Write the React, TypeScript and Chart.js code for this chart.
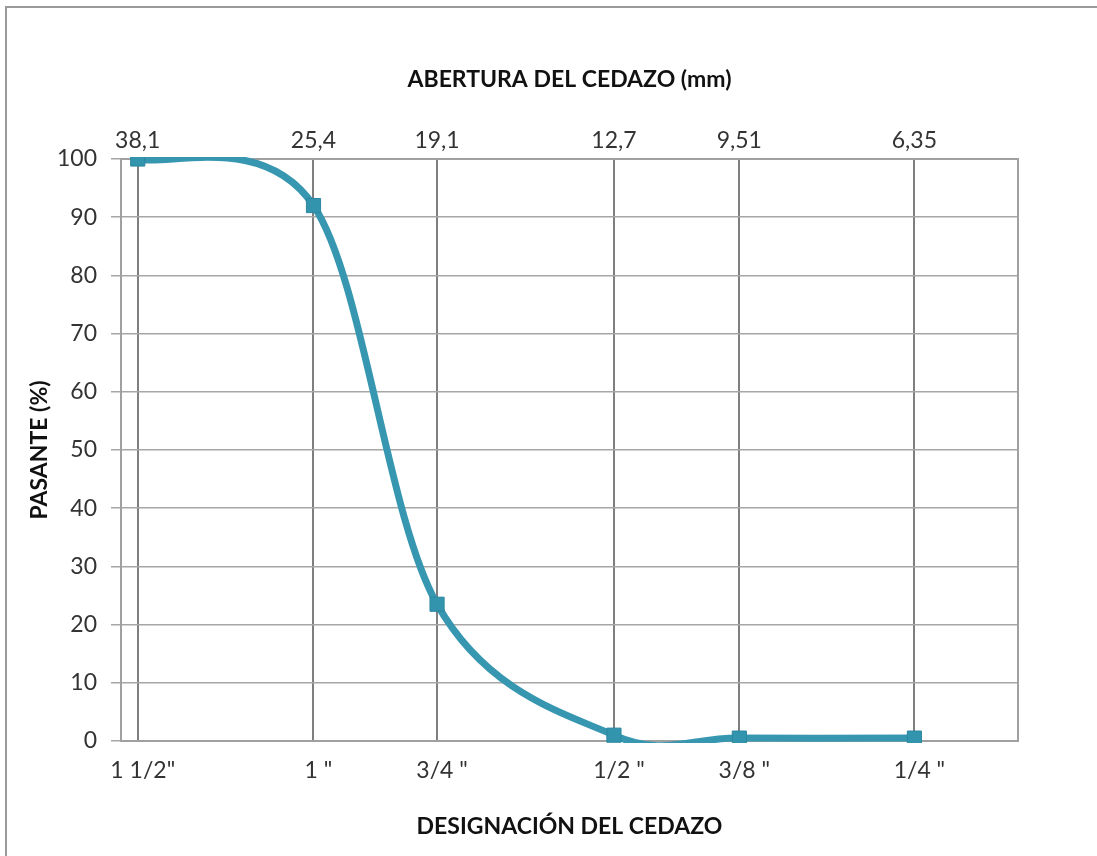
import { useEffect, useRef } from "react";
import { Chart, registerables } from "chart.js";

Chart.register(...registerables);

// Sieve openings (mm) and the matching sieve designations
const aberturaMm = [38.1, 25.4, 19.1, 12.7, 9.51, 6.35];
const aberturaLabels = ["38,1", "25,4", "19,1", "12,7", "9,51", "6,35"];
const designacion = ['1 1/2"', '1 "', '3/4 "', '1/2 "', '3/8 "', '1/4 "'];
// Percent passing each sieve
const pasante = [100, 92, 23.5, 1, 0.5, 0.5];

// Axis limits
const xMin = 5;
const xMax = 39.6;
const yMin = 0;
const yMax = 100;
const yStep = 10;

const FONT = "Lato, 'Liberation Sans', sans-serif";
const TEXT = "#333333";
const TITLE = "#111111";
const TICK_SIZE = 23;
const TITLE_SIZE = 23;

const frame = {
  id: "frame",
  beforeDraw(chart: Chart) {
    const { ctx, width, height } = chart;
    ctx.save();
    ctx.fillStyle = "#ffffff";
    ctx.fillRect(0, 0, width, height);
    ctx.strokeStyle = "#9a9a9a";
    ctx.lineWidth = 2;
    ctx.strokeRect(6, 7, width + 20, height + 20);
    ctx.restore();
  },
  beforeDatasetsDraw(chart: Chart) {
    const { ctx, chartArea: a } = chart;
    ctx.save();
    ctx.strokeStyle = "#a0a0a0";
    ctx.lineWidth = 2;
    ctx.strokeRect(a.left, a.top, a.right - a.left, a.bottom - a.top);
    ctx.restore();
  },
};

// Catmull-Rom style smoothing: each control point sits 1/6 of the
// neighbour-to-neighbour span away from its point.
const smoothCurve = {
  id: "smoothCurve",
  beforeDatasetDraw(chart: Chart, args: any) {
    const meta = chart.getDatasetMeta(args.index);
    const line: any = meta.dataset;
    if (!line) return;
    line.updateControlPoints(chart.chartArea, "x");
    const pts: any[] = meta.data as any[];
    for (let i = 0; i < pts.length; i++) {
      const p = pts[i];
      const prev = pts[i - 1] || p;
      const next = pts[i + 1] || p;
      const dx = (next.x - prev.x) / 6;
      const dy = (next.y - prev.y) / 6;
      p.cp1x = p.x - dx;
      p.cp1y = p.y - dy;
      p.cp2x = p.x + dx;
      p.cp2y = p.y + dy;
    }
  },
};

export default function App() {
  const ref = useRef<HTMLCanvasElement | null>(null);

  useEffect(() => {
    if (!ref.current) return;
    const sieveTicks = (s: any) => {
      s.ticks = aberturaMm.map((v) => ({ value: v }));
    };
    const chart = new Chart(ref.current, {
      type: "line",
      data: {
        datasets: [
          {
            data: aberturaMm.map((x, i) => ({ x, y: pasante[i] })),
            borderColor: "#3797b0",
            backgroundColor: "#3192ab",
            borderWidth: 7,
            tension: 0.4,
            pointStyle: "rect",
            pointRadius: 10,
            pointBorderWidth: 1,
            pointBorderColor: "#2b87a0",
            pointBackgroundColor: "#3394ad",
            clip: 2,
            xAxisID: "x",
            yAxisID: "y",
          },
        ],
      },
      options: {
        responsive: false,
        animation: false,
        layout: { padding: { left: 0, top: 0, right: 79, bottom: 0 } },
        plugins: {
          legend: { display: false },
          tooltip: { enabled: false },
        },
        scales: {
          x: {
            type: "logarithmic",
            position: "top",
            reverse: true,
            min: xMin,
            max: xMax,
            afterBuildTicks: sieveTicks,
            afterFit: (s: any) => {
              s.height = 159;
            },
            ticks: {
              autoSkip: false,
              maxRotation: 0,
              padding: 5,
              color: TEXT,
              font: { family: FONT, size: TICK_SIZE },
              callback: (_v: any, i: number) => aberturaLabels[i],
            },
            grid: { color: "#7f7f7f", lineWidth: 2, drawTicks: false },
            border: { display: false },
            title: {
              display: true,
              text: "ABERTURA DEL CEDAZO (mm)",
              color: TITLE,
              font: { family: FONT, size: TITLE_SIZE, weight: "bold" },
              padding: { top: 66, bottom: 0 },
            },
          },
          x2: {
            type: "logarithmic",
            position: "bottom",
            reverse: true,
            min: xMin,
            max: xMax,
            afterBuildTicks: sieveTicks,
            afterFit: (s: any) => {
              s.height = 115;
            },
            ticks: {
              autoSkip: false,
              maxRotation: 0,
              padding: 8,
              labelOffset: 5,
              color: TEXT,
              font: { family: FONT, size: TICK_SIZE },
              callback: (_v: any, i: number) => designacion[i],
            },
            grid: { display: false },
            border: { display: false },
            title: {
              display: true,
              text: "DESIGNACIÓN DEL CEDAZO",
              color: TITLE,
              font: { family: FONT, size: TITLE_SIZE, weight: "bold" },
              padding: { top: 0, bottom: 16 },
            },
          },
          y: {
            type: "linear",
            position: "left",
            min: yMin,
            max: yMax,
            afterFit: (s: any) => {
              s.width = 121;
            },
            ticks: {
              stepSize: yStep,
              padding: 14,
              color: TEXT,
              font: { family: FONT, size: TICK_SIZE },
            },
            grid: { color: "#a6a6a6", lineWidth: 1.5, tickLength: 10 },
            border: { display: false },
            title: {
              display: true,
              text: "PASANTE (%)",
              color: TITLE,
              font: { family: FONT, size: TITLE_SIZE, weight: "bold" },
              padding: { top: 26, bottom: 0 },
            },
          },
        },
      },
      plugins: [frame, smoothCurve],
    });
    return () => chart.destroy();
  }, []);

  return (
    <canvas
      ref={ref}
      width={1097}
      height={856}
      style={{ position: "fixed", left: 0, top: 0, display: "block" }}
    />
  );
}
